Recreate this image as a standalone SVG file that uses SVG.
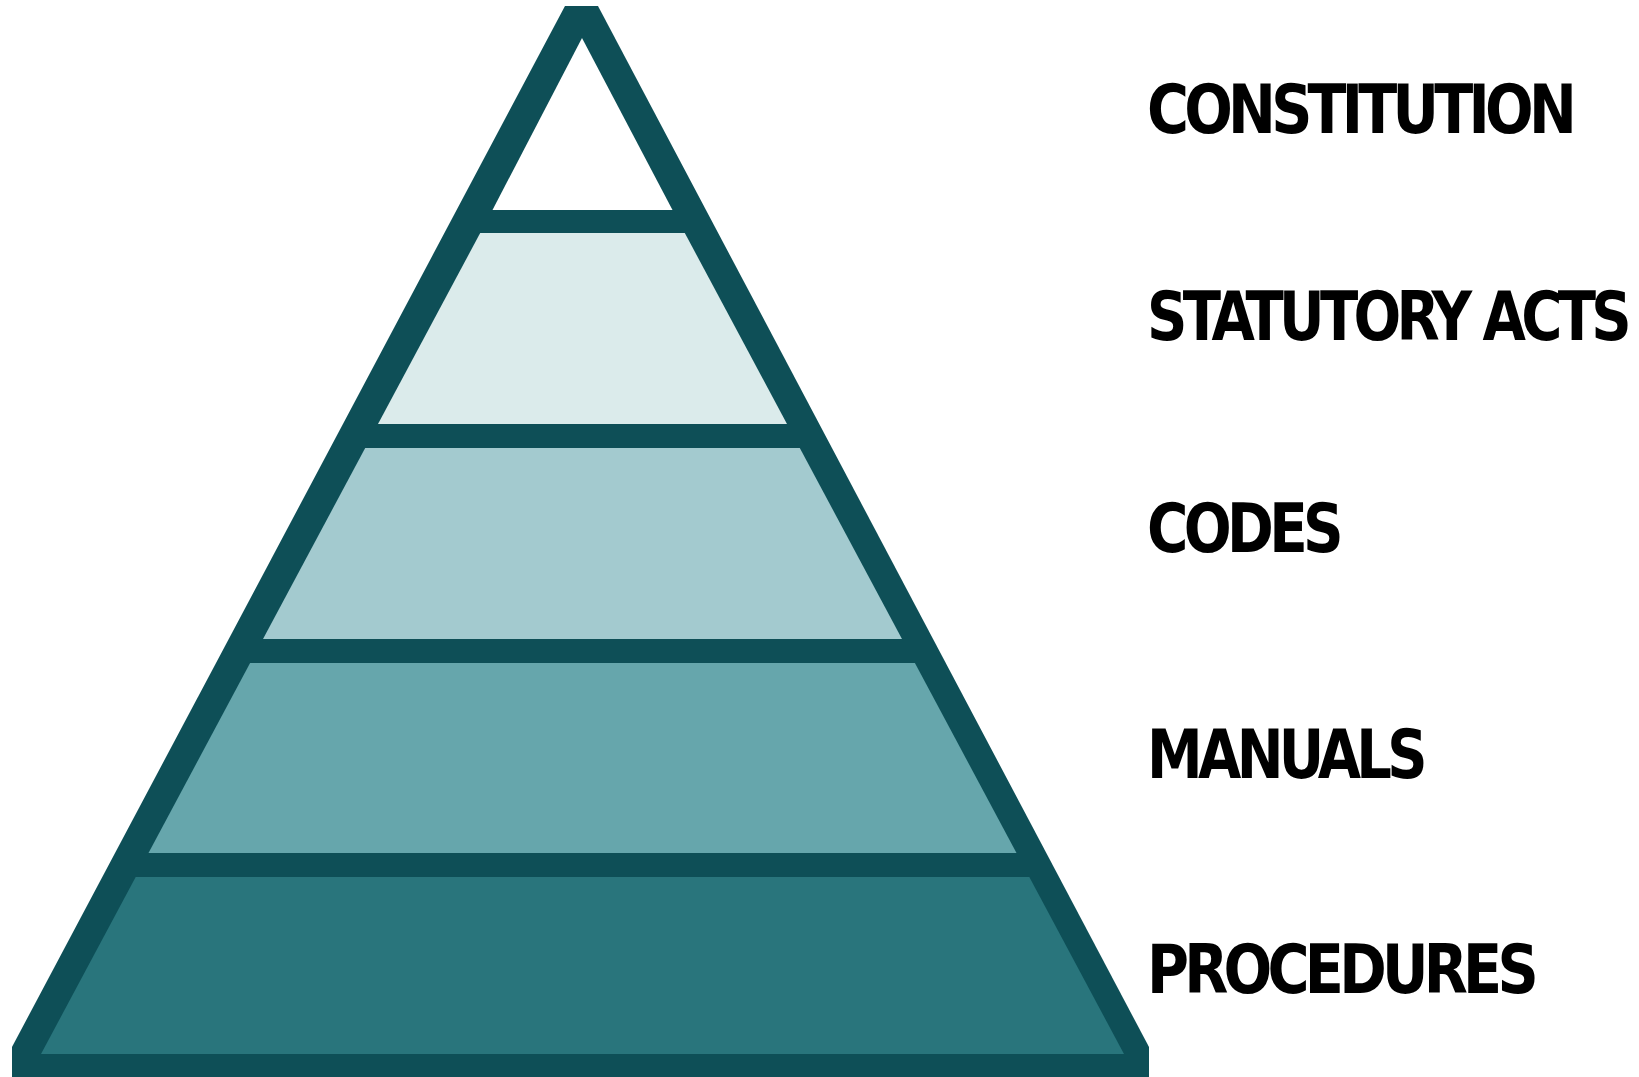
<svg xmlns="http://www.w3.org/2000/svg" width="1639" height="1077" viewBox="0 0 1639 1077">
<style>
.lbl{font-family:"DejaVu Sans Condensed","DejaVu Sans","Liberation Sans",sans-serif;font-stretch:condensed;font-weight:bold;font-size:67px;letter-spacing:-5px;fill:#000}
.edge{fill:#0e4f57}
</style>
<rect x="0" y="0" width="1639" height="1077" fill="#ffffff"/>
<g id="pyramid">
<polygon class="edge" points="565,6 598,6 1149,1047 1149,1077 12,1077 12,1047"/>
<g id="layer-constitution"><polygon fill="#ffffff" points="582,38 492.5,210 672.5,210"/></g>
<g id="layer-statutory"><polygon fill="#dbebeb" points="480.2,233 684.8,233 787,424 378,424"/></g>
<g id="layer-codes"><polygon fill="#a3cacf" points="365.2,448 799.8,448 902,639 263,639"/></g>
<g id="layer-manuals"><polygon fill="#66a6ac" points="250.1,663 914.9,663 1016.5,853 148.5,853"/></g>
<g id="layer-procedures"><polygon fill="#29757c" points="135.7,877 1029.3,877 1124,1054 41,1054"/></g>
</g>
<g id="connectors"></g>
<g id="labels">
<text class="lbl" x="1147" y="133" textLength="425" lengthAdjust="spacingAndGlyphs">CONSTITUTION</text>
<text class="lbl" x="1147" y="340" textLength="480" lengthAdjust="spacingAndGlyphs">STATUTORY ACTS</text>
<text class="lbl" x="1147" y="552" textLength="192" lengthAdjust="spacingAndGlyphs">CODES</text>
<text class="lbl" x="1147" y="778" textLength="276" lengthAdjust="spacingAndGlyphs">MANUALS</text>
<text class="lbl" x="1147" y="993" textLength="387" lengthAdjust="spacingAndGlyphs">PROCEDURES</text>
</g>
</svg>
